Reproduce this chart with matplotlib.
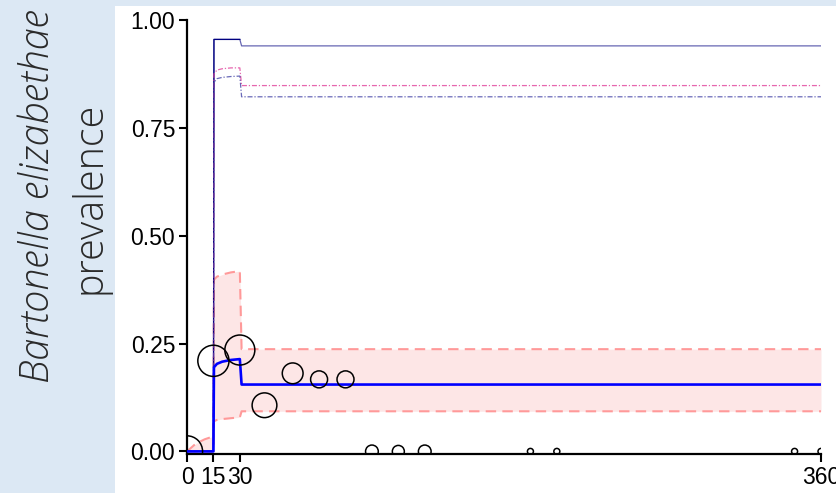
import numpy as np
import matplotlib.pyplot as plt
from matplotlib.patches import Rectangle

# model output on a shared time grid (days)
days = [0, 5, 10, 15, 15.3, 17, 20, 25, 30, 31, 40, 360]
prev_mean = [0, 0, 0, 0, 0.195, 0.203, 0.208, 0.212, 0.214, 0.155, 0.155, 0.155]
prev_lo = [0, 0, 0, 0, 0.070, 0.073, 0.075, 0.077, 0.079, 0.093, 0.093, 0.093]
prev_hi = [0, 0.018, 0.028, 0.035, 0.398, 0.405, 0.410, 0.415, 0.418, 0.237, 0.237, 0.237]
seropos_total = [0, 0, 0, 0, 0.955, 0.955, 0.955, 0.955, 0.955, 0.940, 0.940, 0.940]
seropos_a = [0, 0, 0, 0, 0.875, 0.884, 0.887, 0.889, 0.889, 0.848, 0.848, 0.848]
seropos_b = [0, 0, 0, 0, 0.855, 0.864, 0.867, 0.869, 0.870, 0.822, 0.822, 0.822]

# observed prevalence per sampling session, n = rats tested
obs_day = [0, 15, 30, 44, 60, 75, 90, 105, 120, 135, 195, 210, 345, 360]
obs_prev = [0, 0.21, 0.235, 0.107, 0.181, 0.167, 0.167, 0, 0, 0, 0, 0, 0, 0]
obs_n = [27, 27, 25, 17, 12, 8, 8, 4.5, 4, 4.5, 1, 1, 1, 1]

fig = plt.figure(figsize=(8.36, 4.93), dpi=100)
fig.patch.set_facecolor('#dce8f4')
fig.add_artist(Rectangle((115/836, 0), 1, 1 - 6/493, transform=fig.transFigure,
                         facecolor='white', edgecolor='none', zorder=0))

ax = fig.add_axes([187/836, 1 - 454/493, (821 - 187)/836, (454 - 20)/493])
ax.set_facecolor('none')

ax.fill_between(days, prev_lo, prev_hi, color='#fde6e6', lw=0, zorder=1)
ax.plot(days, prev_lo, color='#ff9999', lw=1.5, dashes=(5, 3), zorder=2)
ax.plot(days, prev_hi, color='#ff9999', lw=1.5, dashes=(5, 3), zorder=2)

ax.plot(days, seropos_total, color='#000080', lw=0.9, alpha=0.6, zorder=3)
ax.plot(days[:9], seropos_total[:9], color='#000080', lw=0.9, zorder=3)
ax.plot(days, seropos_a, color='#e0409a', lw=0.9, dashes=(4, 1.5, 1, 1.5), alpha=0.8, zorder=3)
ax.plot(days, seropos_b, color='#2a2a9a', lw=0.9, dashes=(4, 1.5, 1, 1.5), alpha=0.7, zorder=3)

ax.plot(days, prev_mean, color='#0000ff', lw=1.9, zorder=4)

sizes = [(1.44 * 3 * np.sqrt(n)) ** 2 for n in obs_n]
ax.scatter(obs_day, obs_prev, s=sizes, facecolors='none', edgecolors='black',
           linewidths=1.1, zorder=5)

ax.set_xlim(0, 360)
ax.set_ylim(-0.006, 1.0)
ax.set_xticks([0, 15, 30, 360])
ax.set_yticks([0, 0.25, 0.5, 0.75, 1.0])
ax.set_yticklabels(['0.00', '0.25', '0.50', '0.75', '1.00'])
for s in ['top', 'right']:
    ax.spines[s].set_visible(False)
for s in ['left', 'bottom']:
    ax.spines[s].set_linewidth(1.6)
ax.tick_params(length=6, width=1.5, labelsize=16.5, pad=2.5)
for lab in ax.get_xticklabels() + ax.get_yticklabels():
    lab.set_family('Liberation Sans')

fig.text(38/836, 1 - 196/493, 'Bartonella elizabethae', rotation=90, style='italic',
         family='Open Sans', weight='light', fontsize=28.5, color='#2a2a2a',
         ha='center', va='center')
fig.text(90/836, 1 - 198/493, 'prevalence', rotation=90,
         family='Open Sans', weight='light', fontsize=28.5, color='#2a2a2a',
         ha='center', va='center')

fig.savefig('out.png', dpi=100, facecolor=fig.get_facecolor())
